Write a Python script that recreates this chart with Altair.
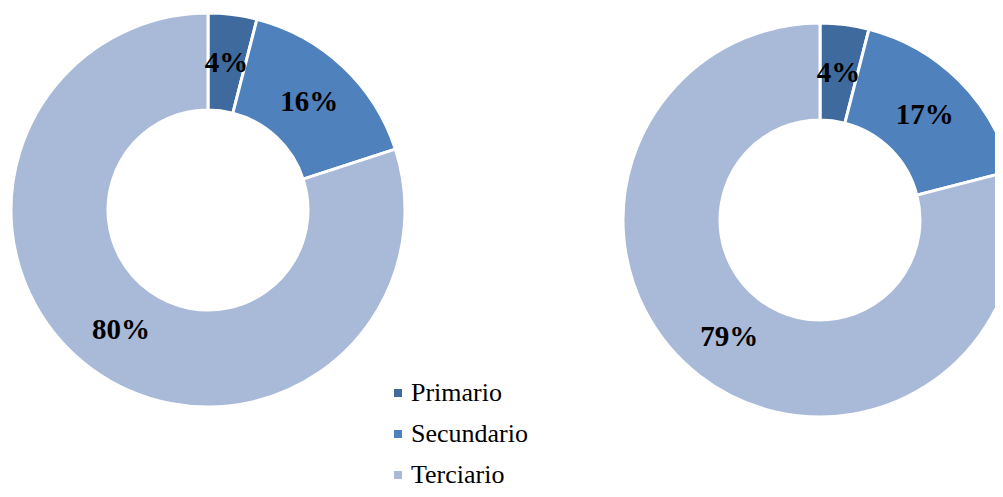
import altair as alt
import pandas as pd

sectors = ["Primario", "Secundario", "Terciario"]
left_values = [4, 16, 80]
right_values = [4, 17, 79]
left_labels = ["4%", "16%", "80%"]
right_labels = ["4%", "17%", "79%"]
colors = ["#3E6A9E", "#4F81BD", "#A9B9D8"]

def frame(values, labels):
    return pd.DataFrame({"sector": sectors, "value": values, "label": labels,
                         "idx": list(range(len(sectors)))})

color_scale = alt.Scale(domain=sectors, range=colors)
legend = alt.Legend(orient="none", legendX=377, legendY=372, title=None,
                    symbolType="square", symbolSize=64, symbolStrokeWidth=0,
                    labelFont="Liberation Serif", labelFontSize=26, labelColor="black",
                    rowPadding=15, labelOffset=0, padding=0)

def donut(df, cx, cy, show_legend):
    base = alt.Chart(df).encode(
        theta=alt.Theta("value:Q", stack=True),
        order=alt.Order("idx:Q"),
        x=alt.value(cx), y=alt.value(cy),
    )
    arc = base.mark_arc(innerRadius=100, outerRadius=197, stroke="white", strokeWidth=3).encode(
        color=alt.Color("sector:N", scale=color_scale, legend=legend if show_legend else None)
    )
    text = base.mark_text(radius=148, font="Liberation Serif", fontWeight="bold",
                          fontSize=29, color="black").encode(text="label:N")
    return arc + text

chart = alt.layer(
    donut(frame(left_values, left_labels), 200, 202, True),
    donut(frame(right_values, right_labels), 812, 212, False),
).properties(width=987, height=481, padding=0, autosize=alt.AutoSizeParams(type="none")
).configure_view(stroke=None)

chart.save("out.html", embed_options={"renderer": "svg", "actions": False})
